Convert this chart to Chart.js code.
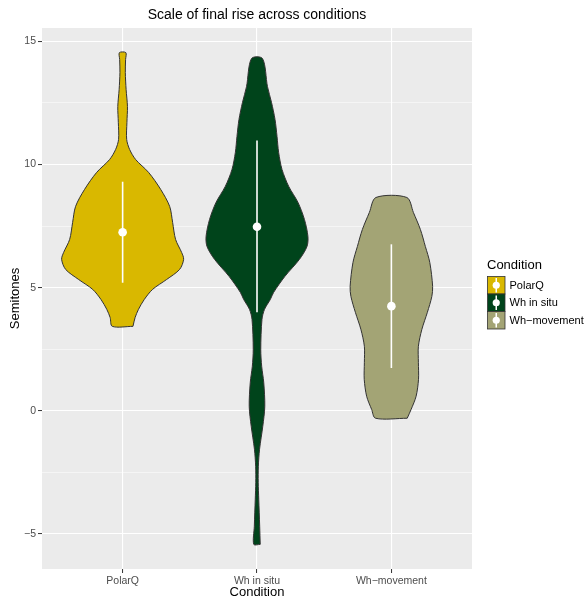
<!DOCTYPE html>
<html><head><meta charset="utf-8">
<script src="https://cdn.jsdelivr.net/npm/chart.js@4/dist/chart.umd.min.js"></script>
<style>html,body{margin:0;padding:0;background:#fff}#wrap{width:584px;height:601px;position:relative}</style>
</head><body><div id="wrap"><canvas id="c" width="584" height="601"></canvas></div>
<script>
// ---- data ----
const categories = ['PolarQ', 'Wh in situ', 'Wh\u2212movement'];
const yTicks = [-5, -2.5, 0, 2.5, 5, 7.5, 10, 12.5, 15];
const colors = ['#D9B800', '#00441B', '#A3A475'];

// violin outlines: semitone levels (bottom to top) and half-widths (in category units)
const polarqLevels = [3.43, 3.79, 4.12, 4.52, 4.93, 5.33, 5.74, 6.15, 6.43, 6.96, 7.65, 8.30, 8.99, 9.68, 10.20, 10.61, 11.02, 11.71, 12.35, 13.04, 13.73, 14.26, 14.54];
const polarqHalfWidth = [0.077, 0.093, 0.118, 0.161, 0.223, 0.327, 0.424, 0.454, 0.439, 0.394, 0.372, 0.350, 0.283, 0.193, 0.097, 0.052, 0.030, 0.032, 0.036, 0.026, 0.020, 0.022, 0.024];

const insituLevels = [-5.42, -4.69, -3.59, -2.90, -2.25, -1.56, -0.63, 0.18, 1.16, 1.80, 2.49, 3.71, 4.12, 4.52, 4.81, 5.46, 6.15, 6.67, 7.08, 7.77, 8.46, 9.11, 9.80, 10.49, 11.14, 11.83, 12.52, 13.16, 14.30];
const insituHalfWidth = [0.024, 0.020, 0.013, 0.009, 0.010, 0.019, 0.043, 0.058, 0.050, 0.035, 0.028, 0.037, 0.056, 0.099, 0.124, 0.208, 0.316, 0.372, 0.379, 0.353, 0.305, 0.236, 0.186, 0.161, 0.149, 0.134, 0.108, 0.078, 0.041];

const movementLevels = [-0.30, 0.06, 0.59, 1.28, 1.97, 2.62, 3.31, 4.00, 4.64, 5.05, 6.02, 6.67, 7.36, 8.05, 8.66];
const movementHalfWidth = [0.118, 0.147, 0.184, 0.202, 0.201, 0.201, 0.227, 0.268, 0.301, 0.307, 0.286, 0.253, 0.216, 0.164, 0.115];

// point ranges (centre and range)
const centres = [7.25, 7.47, 4.25];
const lows = [5.2, 4.0, 1.74];
const highs = [9.3, 10.97, 6.76];

// ---- build datasets ----
const FONT = '"Liberation Sans", Arial, Helvetica, sans-serif';
Chart.defaults.font.family = FONT;

function violin(pos, levels, hw) {
  const pts = [];
  for (let i = 0; i < levels.length; i++) pts.push({x: pos + hw[i], y: levels[i]});
  for (let i = levels.length - 1; i >= 0; i--) pts.push({x: pos - hw[i], y: levels[i]});
  pts.push({x: pos + hw[0], y: levels[0]});
  return pts;
}
const outlines = [
  [polarqLevels, polarqHalfWidth],
  [insituLevels, insituHalfWidth],
  [movementLevels, movementHalfWidth]
];

const datasets = [];
datasets.push({
  type: 'line', label: 'centre', showLine: false,
  data: centres.map((v, i) => ({x: i + 1, y: v})),
  pointRadius: 4.3, pointBackgroundColor: '#FFFFFF', pointBorderWidth: 0, order: 0
});
categories.forEach((c, i) => {
  datasets.push({
    type: 'line', label: c + ' range',
    data: [{x: i + 1, y: lows[i]}, {x: i + 1, y: highs[i]}],
    borderColor: '#FFFFFF', borderWidth: 1.6, pointRadius: 0, fill: false, order: 1
  });
});
categories.forEach((c, i) => {
  datasets.push({
    type: 'line', label: c,
    data: violin(i + 1, outlines[i][0], outlines[i][1]),
    borderColor: '#333333', borderWidth: 1, backgroundColor: colors[i],
    fill: 'shape', tension: 0.3, pointRadius: 0, order: 2
  });
});

const panelBg = {
  id: 'panelBg',
  beforeDraw(chart) {
    const a = chart.chartArea, ctx = chart.ctx;
    ctx.save(); ctx.fillStyle = '#EBEBEB';
    ctx.fillRect(a.left, a.top, a.right - a.left, a.bottom - a.top);
    ctx.restore();
  }
};

const legendTitle = 'Condition';
const ggLegend = {
  id: 'ggLegend',
  afterDraw(chart) {
    const ctx = chart.ctx;
    ctx.save();
    ctx.textAlign = 'left'; ctx.textBaseline = 'middle';
    ctx.fillStyle = '#000'; ctx.font = '13px ' + FONT;
    ctx.fillText(legendTitle, 487, 265.5);
    const s = 17.5;
    categories.forEach((name, i) => {
      const x = 487.5, y = 276.5 + i * s;
      ctx.fillStyle = colors[i]; ctx.fillRect(x, y, s, s);
      ctx.strokeStyle = '#333'; ctx.lineWidth = 0.8; ctx.strokeRect(x, y, s, s);
      ctx.strokeStyle = '#FFF'; ctx.lineWidth = 1.5;
      ctx.beginPath(); ctx.moveTo(x + s / 2, y + 1.5); ctx.lineTo(x + s / 2, y + s - 1.5); ctx.stroke();
      ctx.fillStyle = '#FFF'; ctx.beginPath(); ctx.arc(x + s / 2, y + s / 2, 3.6, 0, Math.PI * 2); ctx.fill();
      ctx.fillStyle = '#000'; ctx.font = '11px ' + FONT;
      ctx.fillText(name, 509.5, y + s / 2 + 0.5);
    });
    ctx.restore();
  }
};

new Chart(document.getElementById('c'), {
  type: 'line',
  data: {datasets},
  plugins: [panelBg, ggLegend],
  options: {
    responsive: false, animation: false, devicePixelRatio: 1, events: [],
    layout: {padding: {left: 0, right: 112, top: 0, bottom: 0}},
    plugins: {
      legend: {display: false}, tooltip: {enabled: false},
      title: {display: true, text: 'Scale of final rise across conditions', color: '#000',
        font: {size: 14, weight: 'normal'}, padding: {top: 7, bottom: 4.2}, fullSize: false}
    },
    scales: {
      x: {
        type: 'linear', min: 0.4, max: 3.6,
        afterBuildTicks: s => { s.ticks = [1, 2, 3].map(v => ({value: v})); },
        afterFit: s => { s.height = 32; },
        ticks: {autoSkip: false, maxRotation: 0, color: '#4D4D4D', font: {size: 10.5}, padding: 2,
          callback: v => categories[Math.round(v) - 1]},
        grid: {color: '#FFFFFF', lineWidth: 1.1, drawTicks: true, tickLength: 4, tickColor: '#333333', tickWidth: 1},
        border: {display: false},
        title: {display: true, text: 'Condition', color: '#000', font: {size: 13}, padding: {top: 0, bottom: 0.5}}
      },
      y: {
        type: 'linear', min: -6.42, max: 15.54,
        afterBuildTicks: s => { s.ticks = yTicks.map(v => ({value: v})); },
        afterFit: s => { s.width = 42; },
        ticks: {autoSkip: false, color: '#4D4D4D', font: {size: 10.5}, padding: 2,
          callback: v => (v % 5 === 0 ? (v < 0 ? '\u2212' + Math.abs(v) : String(v)) : '')},
        grid: {color: '#FFFFFF',
          lineWidth: c => (c.tick && c.tick.value % 5 === 0 ? 1.1 : 0.5),
          drawTicks: true, tickLength: 4,
          tickColor: c => (c.tick && c.tick.value % 5 === 0 ? '#333333' : 'rgba(0,0,0,0)'), tickWidth: 1},
        border: {display: false},
        title: {display: true, text: 'Semitones', color: '#000', font: {size: 13}, padding: {top: 7.2, bottom: 0}}
      }
    }
  }
});
</script></body></html>
